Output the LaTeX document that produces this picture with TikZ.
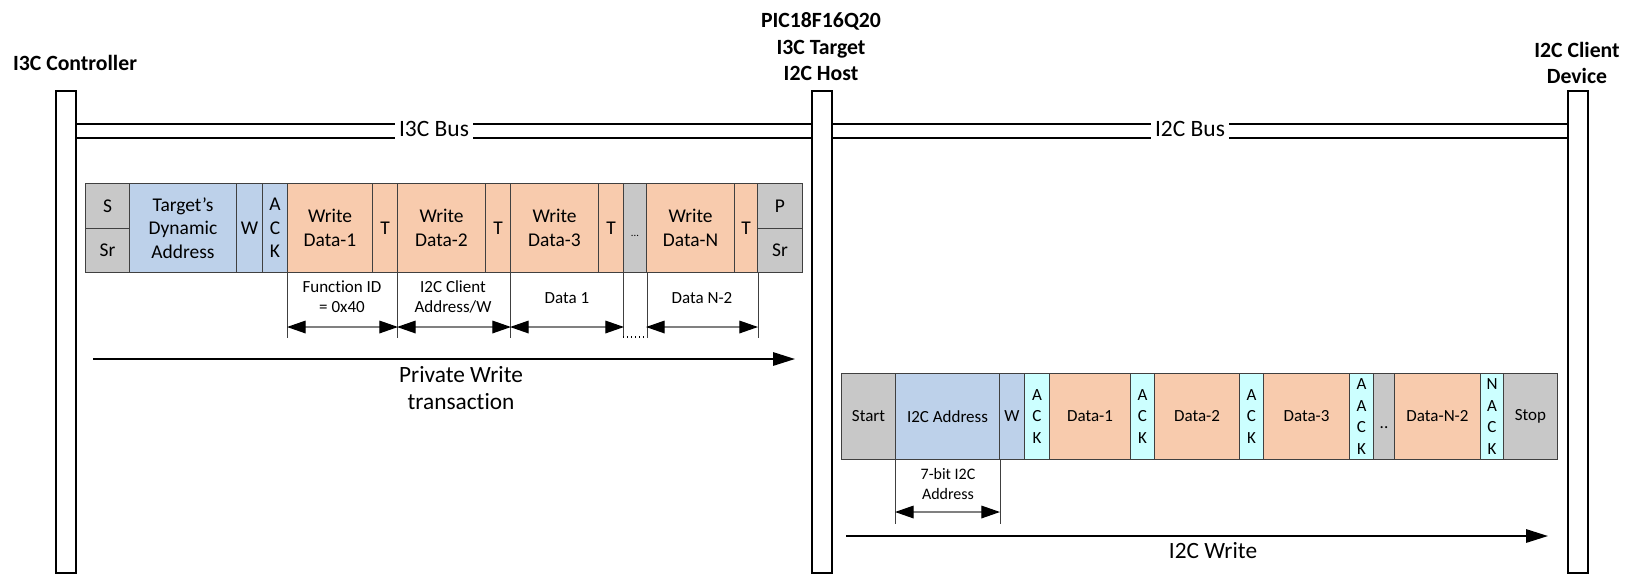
\documentclass[tikz,border=0pt]{standalone}
\usepackage{fontspec}
\setmainfont{Carlito}[Ligatures=NoCommon]
\usetikzlibrary{arrows.meta}

\definecolor{cellgray}{HTML}{C8C8C8}
\definecolor{cellblue}{HTML}{BDD1EA}
\definecolor{cellpeach}{HTML}{F8CBAD}
\definecolor{cellcyan}{HTML}{CCFFFF}
\definecolor{cellline}{HTML}{404040}

\tikzset{
  devbar/.style={draw, line width=1.5pt, fill=white, anchor=north west, inner sep=0pt,
    minimum width=15pt, minimum height=361.5pt},
  devtitle/.style={font=\fontsize{16.3}{19.9}\selectfont\bfseries, align=center},
  busline/.style={line width=1.3pt},
  buslabel/.style={font=\fontsize{17.6}{20}\selectfont, inner xsep=3pt},
  cell/.style={draw=cellline, line width=0.75pt, anchor=north west, inner sep=0pt, align=center},
  cellw/.style={minimum width=#1*0.75pt},
  i3c/.style={cell, minimum height=66.75pt, font=\fontsize{14.6}{17.6}\selectfont},
  i3chalf/.style={cell, minimum height=33.375pt, font=\fontsize{14.6}{17.6}\selectfont},
  i2c/.style={cell, minimum height=64.5pt, font=\fontsize{12.75}{16.4}\selectfont},
  dimtick/.style={draw=cellline, line width=0.6pt},
  dimarrow/.style={{Triangle[length=14pt,width=9.5pt,color=black]}-{Triangle[length=14pt,width=9.5pt,color=black]},
    draw=gray, line width=0.9pt},
  dimlabel/.style={font=\fontsize{12.75}{15}\selectfont, align=center},
  flow/.style={-{Triangle[length=16.5pt,width=10pt]}, line width=1.5pt},
  flowlabel/.style={font=\fontsize{17.5}{20.3}\selectfont, align=center}
}

\begin{document}
\begin{tikzpicture}[x=0.75pt, y=-0.75pt]
  \useasboundingbox (0,0) rectangle (1637,576);

  % Devices
  \node[devbar] (ctrl) at (55,90) {};
  \node[devbar] (host) at (811,90) {};
  \node[devbar] (client) at (1567,90) {};
  \node[devtitle] (ctrltitle) at (75,63) {I3C Controller};
  \node[devtitle] (hosttitle) at (821,47) {PIC18F16Q20\\I3C Target\\I2C Host};
  \node[devtitle] (clienttitle) at (1577,63) {I2C Client\\Device};

  % Buses
  \node[buslabel] (i3cbus) at (434,129) {I3C Bus};
  \node[buslabel] (i2cbus) at (1190,129) {I2C Bus};
  \draw[busline] (ctrl.east |- 0,124) -- (i3cbus.west |- 0,124)
    (ctrl.east |- 0,138) -- (i3cbus.west |- 0,138)
    (i3cbus.east |- 0,124) -- (host.west |- 0,124)
    (i3cbus.east |- 0,138) -- (host.west |- 0,138);
  \draw[busline] (host.east |- 0,124) -- (i2cbus.west |- 0,124)
    (host.east |- 0,138) -- (i2cbus.west |- 0,138)
    (i2cbus.east |- 0,124) -- (client.west |- 0,124)
    (i2cbus.east |- 0,138) -- (client.west |- 0,138);

  % I3C private write frame
  \node[i3chalf, fill=cellgray, cellw=44] (s) at (85,183) {S};
  \node[i3chalf, fill=cellgray, cellw=44] (sr) at (85,227.5) {Sr};
  \node[i3c, fill=cellblue, cellw=107] (daddr) at (129,183) {Target’s\\Dynamic\\Address};
  \node[i3c, fill=cellblue, cellw=26] (wbit) at (236,183) {W};
  \node[i3c, fill=cellblue, cellw=25] (ack) at (262,183) {A\\C\\K};
  \node[i3c, fill=cellpeach, cellw=85] (wd1) at (287,183) {Write\\Data-1};
  \node[i3c, fill=cellpeach, cellw=25] (t1) at (372,183) {T};
  \node[i3c, fill=cellpeach, cellw=88] (wd2) at (397,183) {Write\\Data-2};
  \node[i3c, fill=cellpeach, cellw=25] (t2) at (485,183) {T};
  \node[i3c, fill=cellpeach, cellw=88] (wd3) at (510,183) {Write\\Data-3};
  \node[i3c, fill=cellpeach, cellw=25] (t3) at (598,183) {T};
  \node[i3c, fill=cellgray, cellw=23, font=\fontsize{8}{9}\selectfont, text height=12pt, text depth=0pt] (gap) at (623,183) {...};
  \node[i3c, fill=cellpeach, cellw=88] (wdn) at (646,183) {Write\\Data-N};
  \node[i3c, fill=cellpeach, cellw=23] (tn) at (734,183) {T};
  \node[i3chalf, fill=cellgray, cellw=45] (p) at (757,183) {P};
  \node[i3chalf, fill=cellgray, cellw=45] (psr) at (757,227.5) {Sr};

  % I3C field sizes
  \draw[dimtick] (wd1.south west) -- ++(0,65);
  \draw[dimtick] (wd2.south west) -- ++(0,65);
  \draw[dimtick] (wd3.south west) -- ++(0,65);
  \draw[dimtick] (gap.south west) -- ++(0,65);
  \draw[dimtick] (gap.south east) -- ++(0,65);
  \draw[dimtick] (tn.south east) -- ++(0,65);
  \draw[dimarrow] (wd1.south west |- 0,327) -- (t1.south east |- 0,327);
  \draw[dimarrow] (wd2.south west |- 0,327) -- (t2.south east |- 0,327);
  \draw[dimarrow] (wd3.south west |- 0,327) -- (t3.south east |- 0,327);
  \draw[dimarrow] (wdn.south west |- 0,327) -- (tn.south east |- 0,327);
  \draw[dotted, line width=1pt] (gap.south west |- 0,337) -- (gap.south east |- 0,337);
  \node[dimlabel] (fid) at (342,297) {Function ID\\= 0x40};
  \node[dimlabel] (cadr) at (453,297) {I2C Client\\Address/W};
  \node[dimlabel] (dat1) at (567,298) {Data 1};
  \node[dimlabel] (datn) at (702,298) {Data N-2};

  % Private write
  \coordinate (pwfrom) at (93,359);
  \coordinate (pwto) at (795,359);
  \draw[flow] (pwfrom) -- (pwto);
  \node[flowlabel] (pwlabel) at (461,388) {Private Write\\transaction};

  % I2C write frame
  \node[i2c, fill=cellgray, cellw=54] (start) at (841,373) {Start};
  \node[i2c, fill=cellblue, cellw=104] (iaddr) at (895,373) {I2C Address};
  \node[i2c, fill=cellblue, cellw=25] (iw) at (999,373) {W};
  \node[i2c, fill=cellcyan, cellw=25] (iack1) at (1024,373) {A\\C\\K};
  \node[i2c, fill=cellpeach, cellw=81] (d1) at (1049,373) {Data-1};
  \node[i2c, fill=cellcyan, cellw=24] (iack2) at (1130,373) {A\\C\\K};
  \node[i2c, fill=cellpeach, cellw=85] (d2) at (1154,373) {Data-2};
  \node[i2c, fill=cellcyan, cellw=24] (iack3) at (1239,373) {A\\C\\K};
  \node[i2c, fill=cellpeach, cellw=86] (d3) at (1263,373) {Data-3};
  \node[i2c, fill=cellcyan, cellw=24] (iack4) at (1349,373) {A\\A\\C\\K};
  \node[i2c, fill=cellgray, cellw=21, text height=18pt, text depth=0pt] (igap) at (1373,373) {..};
  \node[i2c, fill=cellpeach, cellw=86] (dn) at (1394,373) {Data-N-2};
  \node[i2c, fill=cellcyan, cellw=23] (nack) at (1480,373) {N\\A\\C\\K};
  \node[i2c, fill=cellgray, cellw=54] (stop) at (1503,373) {Stop};

  % I2C address size
  \draw[dimtick] (iaddr.south west) -- ++(0,64);
  \draw[dimtick] (iaddr.south east) -- ++(0,64);
  \draw[dimarrow] (iaddr.south west |- 0,512) -- (iaddr.south east |- 0,512);
  \node[dimlabel, font=\fontsize{12}{14.5}\selectfont] (addr7) at (948,484) {7-bit I2C\\Address};

  % I2C write
  \coordinate (iwfrom) at (846,536);
  \coordinate (iwto) at (1548,536);
  \draw[flow] (iwfrom) -- (iwto);
  \node[flowlabel] (iwlabel) at (1213,551) {I2C Write};
\end{tikzpicture}
\end{document}
